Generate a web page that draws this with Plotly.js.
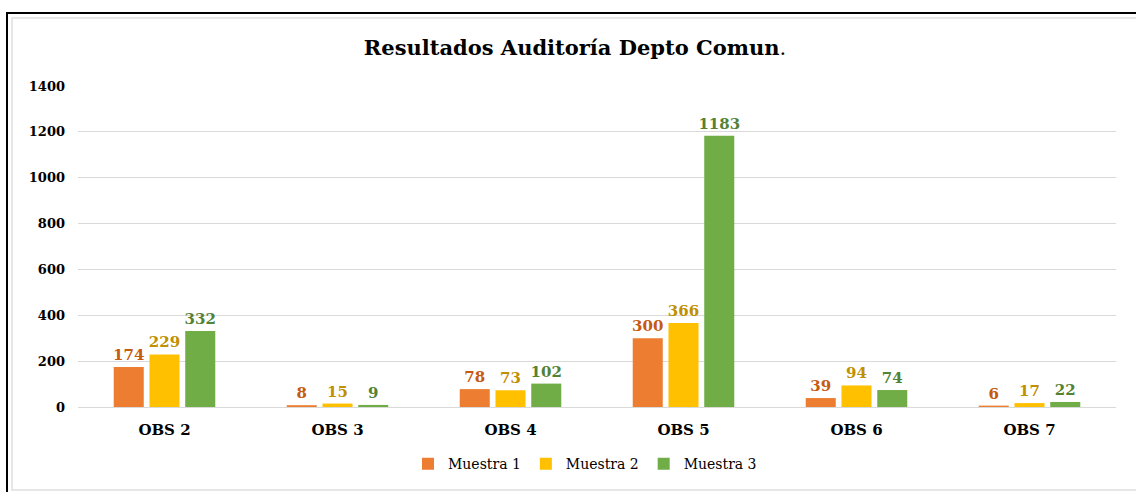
<!DOCTYPE html>
<html><head><meta charset="utf-8">
<script src="https://cdn.plot.ly/plotly-3.0.1.min.js"></script>
<style>
html,body{margin:0;padding:0;background:#fff;width:1136px;height:492px;overflow:hidden;position:relative;}
#outer{position:absolute;left:6px;top:12px;width:1140px;height:490px;border:2px solid #000;box-sizing:border-box;}
#inner{position:absolute;left:11px;top:17px;width:1140px;height:474px;border:2px solid #e6e6e6;box-sizing:border-box;}
#chart{position:absolute;left:0;top:0;width:1136px;height:492px;}
</style></head><body>
<div id="outer"></div><div id="inner"></div>
<div id="chart"></div>
<script>
const categories = ["OBS 2","OBS 3","OBS 4","OBS 5","OBS 6","OBS 7"];
const muestra1 = [174, 8, 78, 300, 39, 6];
const muestra2 = [229, 15, 73, 366, 94, 17];
const muestra3 = [332, 9, 102, 1183, 74, 22];
const seriesNames = ["Muestra 1","Muestra 2","Muestra 3"];
const yTicks = [0,200,400,600,800,1000,1200,1400];

const FONT = "DejaVu Serif, Georgia, serif";
const barColors = ["#ED7D31","#FFC000","#70AD47"];
const labelColors = ["#C55A11","#BF9000","#548235"];
const vals = [muestra1, muestra2, muestra3];

const traces = vals.map((v,i)=>({
  type:'bar', name: seriesNames[i], x: categories, y: v,
  marker:{color: barColors[i]},
  text: v.map(String), textposition:'outside', cliponaxis:false, constraintext:'none',
  textfont:{family:FONT, size:15, color:labelColors[i], weight:'bold'},
  hoverinfo:'skip'
}));

const layout = {
  width:1136, height:492,
  paper_bgcolor:'rgba(0,0,0,0)', plot_bgcolor:'rgba(0,0,0,0)',
  margin:{l:78, r:20, t:86, b:85},
  font:{family:FONT, color:'#000'},
  title:{text:'<b>Resultados Auditoría Depto Comun</b>.', font:{family:FONT, size:21, color:'#000'},
    xref:'container', x:575/1136, xanchor:'center', yref:'container', y:1-48/492, yanchor:'middle'},
  barmode:'group', bargap:0.38, bargroupgap:0.16,
  xaxis:{type:'category', showgrid:false, showline:true, linecolor:'#d9d9d9', linewidth:1,
    ticks:'', ticklabelstandoff:9, tickfont:{family:FONT, size:15, color:'#000', weight:'bold'}},
  yaxis:{range:[0,1400], tickvals:yTicks, ticktext:yTicks.map(String), showgrid:true, gridcolor:'#d9d9d9',
    zeroline:false, showline:false, ticks:'', ticklabelstandoff:12,
    tickfont:{family:FONT, size:13, color:'#000', weight:'bold'}},
  showlegend:true,
  legend:{orientation:'h', x:(585-78)/1038, xanchor:'center', y:-0.178, yanchor:'middle',
    font:{family:FONT, size:14, color:'#000'}, itemwidth:30, traceorder:'normal'}
};
Plotly.newPlot('chart', traces, layout, {staticPlot:true, displayModeBar:false});
</script></body></html>
